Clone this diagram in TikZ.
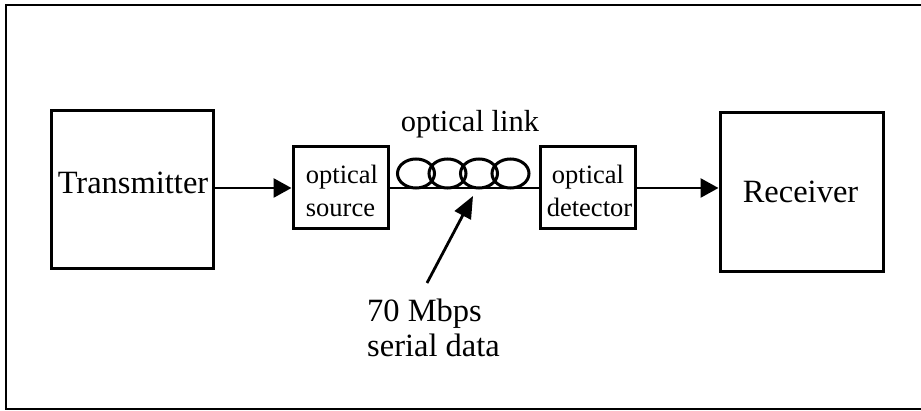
\documentclass[tikz,border=0pt]{standalone}
\usepackage{fontspec}
\setmainfont{Liberation Serif}
\usetikzlibrary{arrows.meta}
\begin{document}
\begin{tikzpicture}[x=1pt,y=-1pt,
  blk/.style={draw,line width=3pt,inner sep=0pt},
  bigtxt/.style={font=\fontsize{32.5}{35}\selectfont,inner sep=0pt,anchor=base},
  midtxt/.style={font=\fontsize{30.5}{34}\selectfont,inner sep=0pt,anchor=base},
  smalltxt/.style={font=\fontsize{26.5}{33}\selectfont,inner sep=0pt,anchor=base},
  arr/.style={line width=2.8pt,-{Triangle[length=18pt,width=19pt]}},
  arrdiag/.style={line width=2.8pt,-{Triangle[length=22pt,width=18pt]}}]
\useasboundingbox (0,0) rectangle (921,411);
% frame
\draw[line width=1.8pt] (921,5) -- (6,5) -- (6,409) -- (921,409);
% boxes
\node[blk,minimum width=162pt,minimum height=158pt] (tx) at (132,190) {};
\node[blk,minimum width=95pt,minimum height=82pt] (src) at (340.5,188) {};
\node[blk,minimum width=95pt,minimum height=82pt] (det) at (587.5,188) {};
\node[blk,minimum width=163pt,minimum height=159pt] (rx) at (801.5,192.5) {};
% texts
\node[bigtxt] (txl) at (133,194) {Transmitter};
\node[bigtxt] (rxl) at (800.5,203) {Receiver};
\node[smalltxt] (srcl1) at (342,183.3) {optical};
\node[smalltxt] (srcl2) at (340.5,216.7) {source};
\node[smalltxt] (detl1) at (588,183.3) {optical};
\node[smalltxt] (detl2) at (589.5,216.7) {detector};
\node[midtxt] (linkl) at (470,131.7) {optical link};
\node[bigtxt,anchor=base west] (datal1) at (367,321.7) {70 Mbps};
\node[bigtxt,anchor=base west] (datal2) at (367,356.7) {serial data};
% connectors
\draw[arr] (src.west -| tx.east) -- (src.west);
\draw[arr] (det.east) -- (det.east -| rx.west);
\draw[line width=2.2pt] (src.east) -- (det.west);
% fibre coil
\foreach \cx in {416,447.5,479,510.5}
  \draw[line width=3pt] (\cx,173.5) ellipse [x radius=18.5, y radius=14.5];
% data arrow
\coordinate (datatail) at (427,283);
\coordinate (datatip) at (473,196);
\draw[arrdiag] (datatail) -- (datatip);
\end{tikzpicture}
\end{document}
